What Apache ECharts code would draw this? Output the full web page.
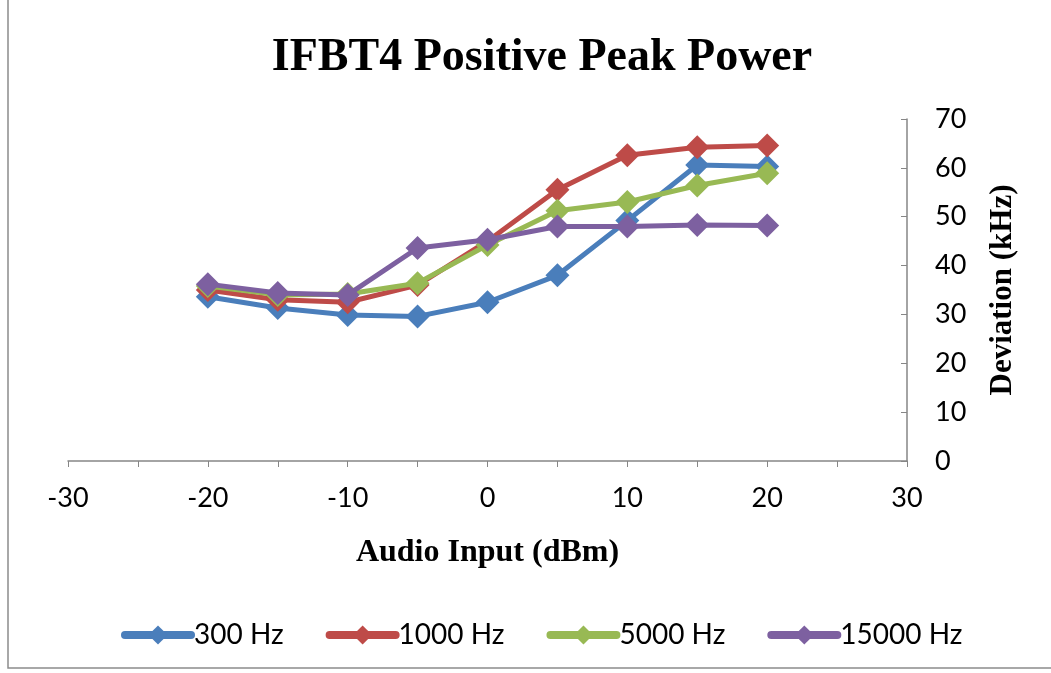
<!DOCTYPE html>
<html><head><meta charset="utf-8">
<script src="https://cdn.jsdelivr.net/npm/echarts@6/dist/echarts.min.js"></script>
<style>html,body{margin:0;padding:0;background:#fff}#c{width:1051px;height:673px}</style>
</head><body><div id="c"></div>
<script>
var xValues = [-20, -15, -10, -5, 0, 5, 10, 15, 20];
var seriesNames = ['300 Hz', '1000 Hz', '5000 Hz', '15000 Hz'];
var s300 = [33.6, 31.3, 29.9, 29.6, 32.5, 38.0, 49.2, 60.6, 60.3];
var s1000 = [35.0, 33.0, 32.5, 36.0, 45.0, 55.5, 62.6, 64.2, 64.6];
var s5000 = [35.8, 34.0, 34.2, 36.4, 44.2, 51.2, 53.0, 56.4, 58.9];
var s15000 = [36.2, 34.4, 34.0, 43.6, 45.3, 48.0, 48.0, 48.3, 48.2];
var colors = ['#4A7EBB', '#BE4B48', '#98B954', '#7D60A0'];
var xTicks = [-30, -20, -10, 0, 10, 20, 30];
var yTicks = [0, 10, 20, 30, 40, 50, 60, 70];

function pairs(v){ return xValues.map(function(x,i){ return [x, v[i]]; }); }
var all = [s300, s1000, s5000, s15000];
var chart = echarts.init(document.getElementById('c'));
var sansFont = "Lato,'Liberation Sans',sans-serif";
var serifFont = "'Liberation Serif','DejaVu Serif',serif";
chart.setOption({
  animation: false,
  title: { text: 'IFBT4 Positive Peak Power', left: 537, top: 30, textAlign: 'center',
    textStyle: { fontFamily: serifFont, fontWeight: 'bold', fontSize: 46, color: '#000' } },
  grid: { left: 68, right: 144, top: 119, bottom: 212 },
  legend: { top: 616, left: 116, itemWidth: 66, itemHeight: 24, itemGap: 42,
    lineStyle: { width: 8, cap: 'round' },
    textStyle: { fontFamily: sansFont, fontSize: 28, color: '#000', padding: [0,0,0,-2] },
    data: seriesNames },
  xAxis: { type: 'value', min: -30, max: 30, interval: 10,
    axisLine: { onZero: false, lineStyle: { color: '#868686', width: 1.5 } },
    axisTick: { show: true, length: 6, lineStyle: { color: '#868686' } },
    minorTick: { show: true, splitNumber: 2, length: 6, lineStyle: { color: '#868686' } },
    splitLine: { show: false },
    axisLabel: { margin: 24, fontFamily: sansFont, fontSize: 27, color: '#000',
      formatter: function(v){ return xTicks.indexOf(v) >= 0 ? String(v) : ''; } },
    name: 'Audio Input (dBm)', nameLocation: 'middle', nameGap: 76,
    nameTextStyle: { fontFamily: serifFont, fontWeight: 'bold', fontSize: 32, color: '#000' } },
  yAxis: { type: 'value', position: 'right', min: 0, max: 70, interval: 10,
    axisLine: { show: true, onZero: false, lineStyle: { color: '#868686', width: 1.5 } },
    axisTick: { show: true, inside: true, length: 6, lineStyle: { color: '#868686' } },
    splitLine: { show: false },
    axisLabel: { margin: 28, fontFamily: sansFont, fontSize: 27, color: '#000',
      formatter: function(v){ return yTicks.indexOf(v) >= 0 ? String(v) : ''; } },
    name: 'Deviation (kHz)', nameLocation: 'middle', nameGap: 80, nameRotate: 90,
    nameTextStyle: { fontFamily: serifFont, fontWeight: 'bold', fontSize: 31, color: '#000' } },
  graphic: [{ type: 'rect', shape: { x: 8, y: -5, width: 1100, height: 673 },
    style: { fill: 'none', stroke: '#8c8c8c', lineWidth: 1.5 }, silent: true, z: -1 }],
  series: seriesNames.map(function(n, i){
    return { name: n, type: 'line', data: pairs(all[i]), symbol: 'diamond', symbolSize: 24,
      lineStyle: { width: 5, color: colors[i] }, itemStyle: { color: colors[i] }, z: 2 + i };
  })
});
</script></body></html>
